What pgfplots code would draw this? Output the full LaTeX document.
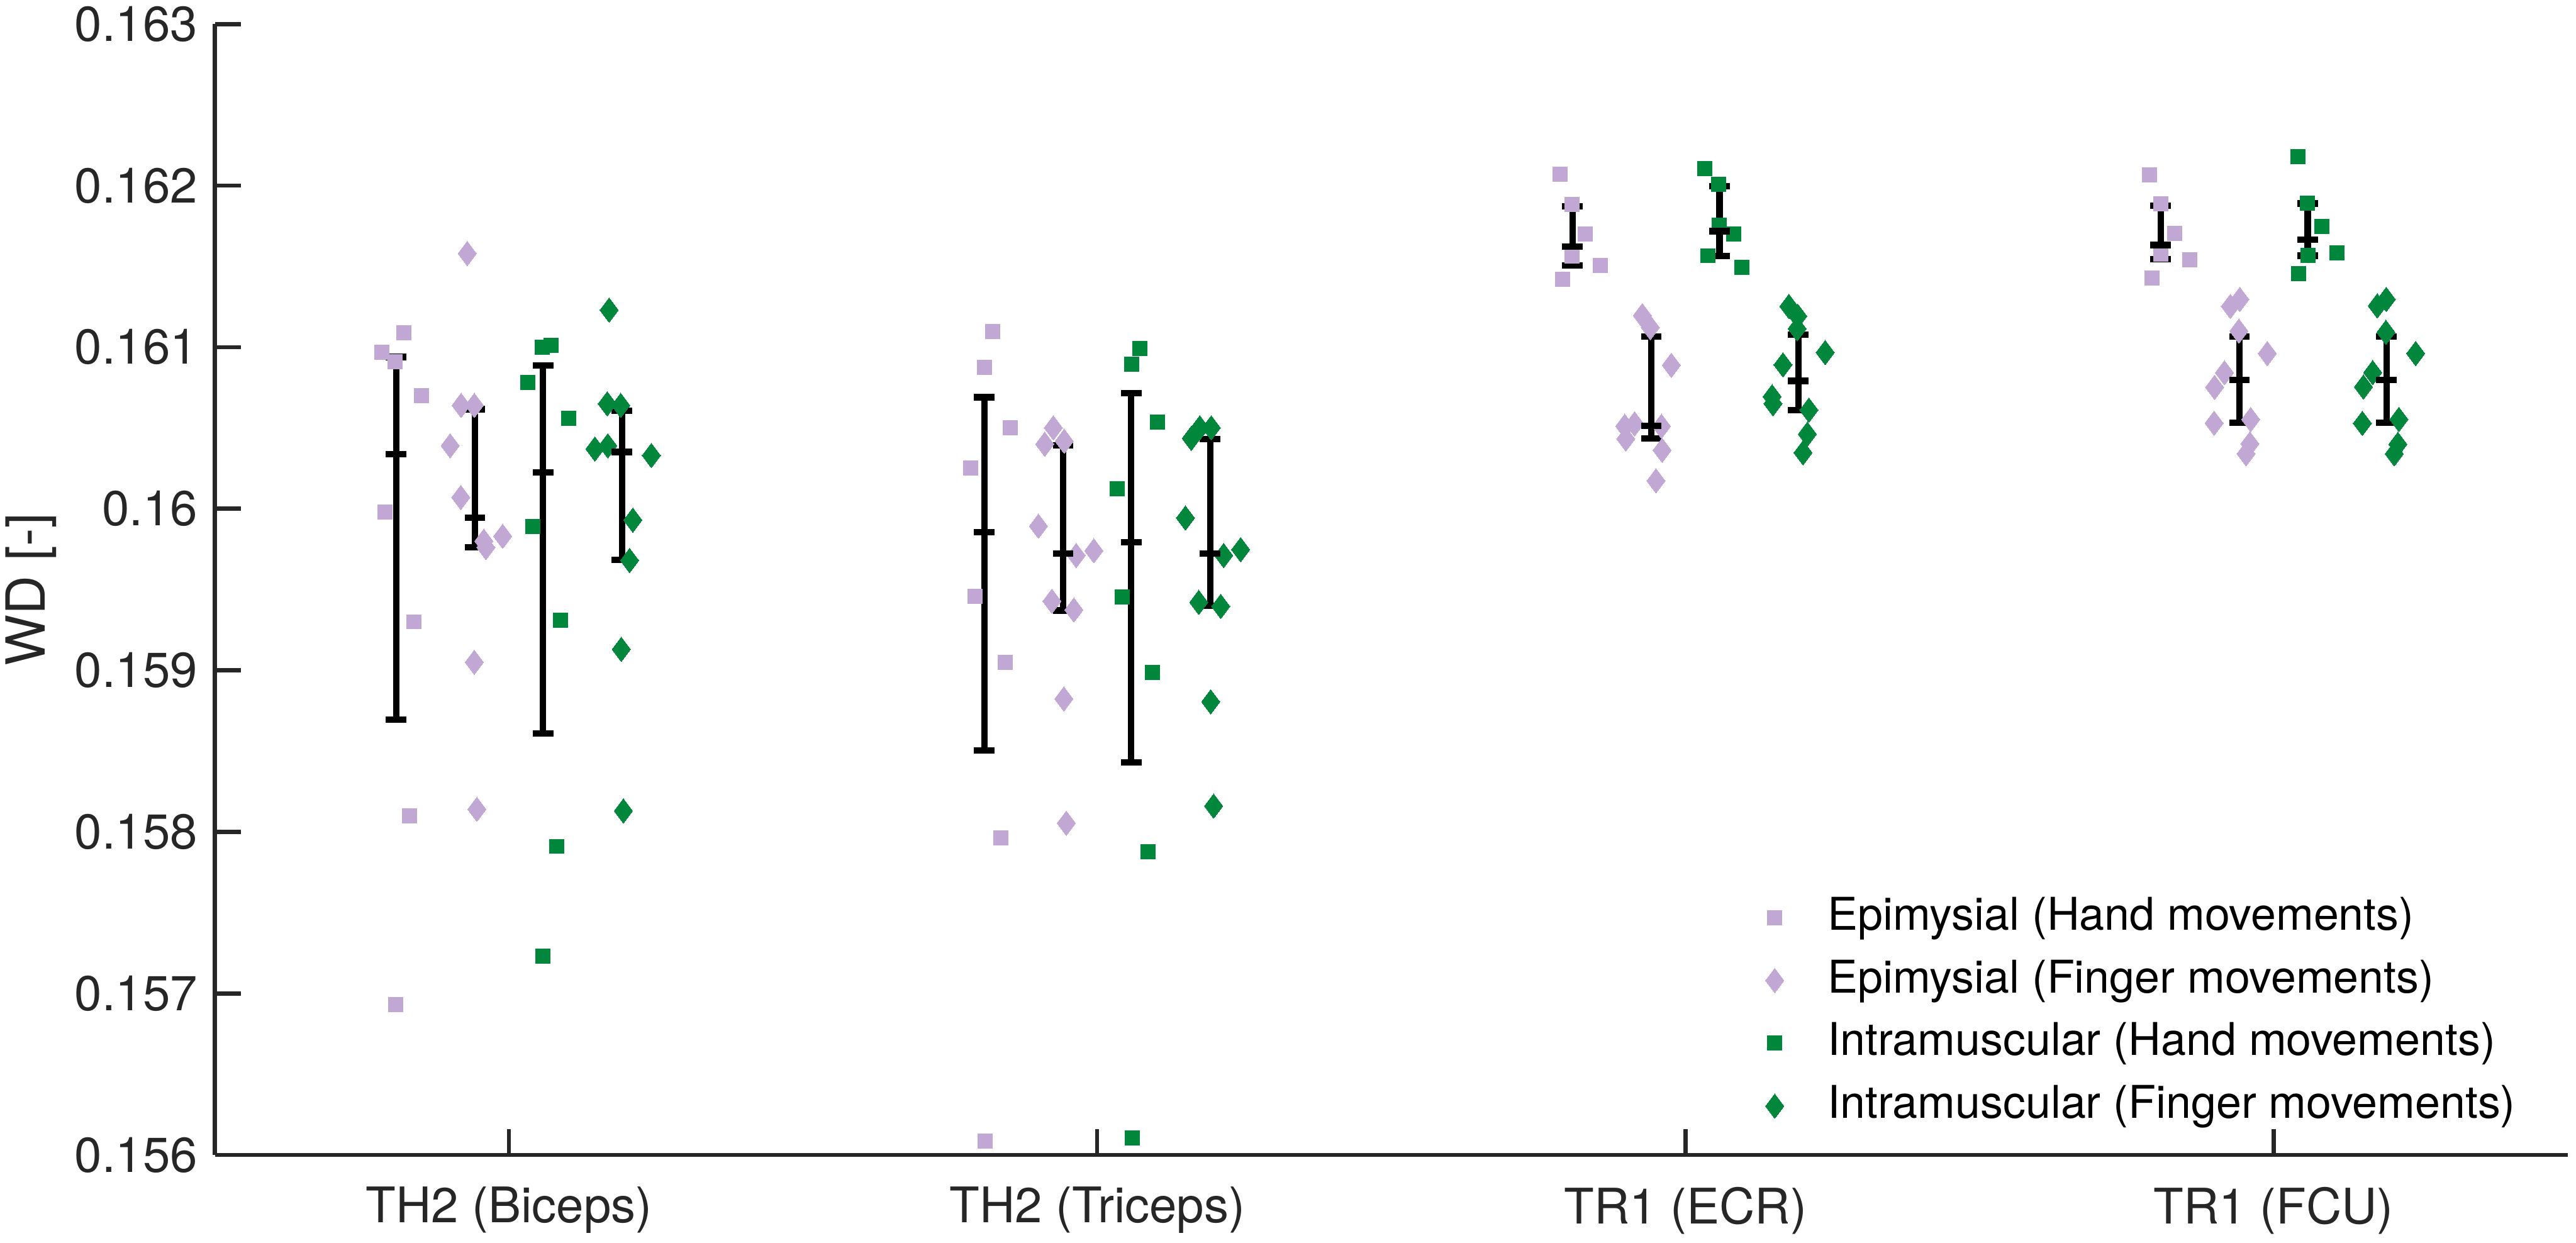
\documentclass[border=0pt]{standalone}
\usepackage{pgfplots}
\pgfplotsset{compat=1.18}
\usepackage{pgfplotstable}
\usepackage{fontspec}
\setmainfont{TeX Gyre Heros}
\definecolor{epi}{RGB}{193,168,212}
\definecolor{intra}{RGB}{0,135,60}
\definecolor{axgray}{RGB}{38,38,38}

% Epimysial, hand movements
\pgfplotstableread{
x y
0.7834 0.16097
0.8215 0.16109
0.8060 0.16091
0.8515 0.16070
0.7894 0.15998
0.8380 0.15930
0.8312 0.15810
0.8076 0.15693
1.8223 0.161096
1.8084 0.160875
1.8526 0.160501
1.7844 0.160251
1.7920 0.159457
1.8440 0.159048
1.8362 0.157964
1.8094 0.156086
2.7873 0.162072
2.8072 0.161882
2.8300 0.161700
2.8070 0.161564
2.8551 0.161505
2.7916 0.161420
3.7891 0.162068
3.8086 0.161889
3.8320 0.161703
3.8086 0.161576
3.8576 0.161542
3.7934 0.161427
}\epihand

% Epimysial, finger movements
\pgfplotstableread{
x y
0.9290 0.16158
0.9186 0.16064
0.9411 0.16064
0.9000 0.16039
0.9180 0.16007
0.9572 0.15980
0.9607 0.15976
0.9893 0.15983
0.9410 0.15905
0.9454 0.15814
1.9254 0.160501
1.9108 0.160400
1.9440 0.160418
1.9001 0.159892
1.9643 0.159711
1.9943 0.159740
1.9230 0.159428
1.9604 0.159374
1.9433 0.158823
1.9475 0.158054
2.9268 0.161196
2.9404 0.161122
2.9761 0.160888
2.8969 0.160511
2.9136 0.160526
2.9593 0.160511
2.8987 0.160432
2.9604 0.160362
2.9500 0.160173
3.9265 0.161253
3.9426 0.161296
3.9410 0.161100
3.9893 0.160961
3.9165 0.160842
3.8997 0.160752
3.8990 0.160530
3.9611 0.160553
3.9597 0.160402
3.9532 0.160340
}\epifinger

% Intramuscular, hand movements
\pgfplotstableread{
x y
1.0564 0.16100
1.0714 0.16101
1.0321 0.16078
1.1017 0.16056
1.0400 0.15989
1.0878 0.15931
1.0810 0.15791
1.0575 0.15723
2.0728 0.160991
2.0585 0.160896
2.1024 0.160537
2.0340 0.160124
2.0425 0.159454
2.0935 0.158986
2.0860 0.157877
2.0600 0.156104
3.0332 0.162105
3.0564 0.162008
3.0580 0.161755
3.0824 0.161700
3.0385 0.161566
3.0964 0.161494
4.0418 0.162180
4.0578 0.161892
4.0817 0.161748
4.0590 0.161569
4.1078 0.161582
4.0425 0.161454
}\intrahand

% Intramuscular, finger movements
\pgfplotstableread{
x y
1.1702 0.16123
1.1670 0.16065
1.1900 0.16064
1.1460 0.16037
1.1680 0.16039
1.2420 0.16033
1.2106 0.15993
1.2050 0.15968
1.1910 0.15913
1.1945 0.15813
2.1600 0.160436
2.1745 0.160501
2.1940 0.160501
2.1500 0.159943
2.2150 0.159711
2.2440 0.159747
2.1727 0.159421
2.2100 0.159396
2.1930 0.158805
2.1980 0.158160
3.1760 0.161253
3.1910 0.161192
3.1900 0.161114
3.2377 0.160967
3.1660 0.160891
3.1474 0.160694
3.1490 0.160650
3.2100 0.160611
3.2074 0.160462
3.2000 0.160347
4.1763 0.161256
4.1916 0.161296
4.1910 0.161092
4.2416 0.160961
4.1685 0.160843
4.1528 0.160754
4.1510 0.160529
4.2130 0.160553
4.2113 0.160399
4.2052 0.160340
}\intrafinger

% Central value with upper and lower extent of each group
\pgfplotstableread{
x y ep em
0.808 0.160339 0.000600 0.001644
0.942 0.159944 0.000672 0.000181
1.058 0.160225 0.000661 0.001617
1.192 0.160351 0.000255 0.000668
1.808 0.159856 0.000834 0.001352
1.942 0.159722 0.000671 0.000352
2.058 0.159791 0.000924 0.001360
2.192 0.159722 0.000710 0.000323
2.808 0.161623 0.000250 0.000118
2.942 0.160513 0.000554 0.000079
3.058 0.161718 0.000278 0.000154
3.192 0.160791 0.000286 0.000181
3.808 0.161632 0.000245 0.000088
3.942 0.160797 0.000270 0.000265
4.058 0.161666 0.000223 0.000100
4.192 0.160797 0.000270 0.000265
}\errtab

\begin{document}
\begin{tikzpicture}
\useasboundingbox (-43.8pt,-17.9pt) rectangle ++(525pt,253.3pt);
\begin{axis}[
  at={(0,0)}, anchor=south west,
  scale only axis, width=479.5pt, height=230.5pt,
  xmin=0.5, xmax=4.5, ymin=0.156, ymax=0.163,
  axis lines*=left,
  axis line style={color=axgray, line width=0.85pt},
  tick align=inside,
  major tick length=5.3pt,
  tick style={color=axgray, line width=0.85pt},
  xtick={1,2,3,4},
  xticklabels={TH2 (Biceps), TH2 (Triceps), TR1 (ECR), TR1 (FCU)},
  ytick={0.156,0.157,0.158,0.159,0.160,0.161,0.162,0.163},
  yticklabels={0.156,0.157,0.158,0.159,0.16,0.161,0.162,0.163},
  scaled y ticks=false,
  ticklabel style={text=axgray},
  xticklabel style={yshift=-3pt},
  ylabel={WD [-]},
  ylabel style={text=axgray, font=\fontsize{11}{13}\selectfont,
    at={(axis description cs:0,0.5)}, anchor=center, yshift=37.5pt},
  legend cell align=left,
  legend image code/.code={\path (-7.6pt,0pt) (8.6pt,0pt); \draw[#1] plot coordinates {(0pt,0pt)};},
  legend style={draw=none, fill=none, inner sep=0pt, text=black,
    font=\fontsize{9.2}{11}\selectfont,
    at={(rel axis cs:0.6463,0.2385)}, anchor=north west,
    nodes={inner xsep=2pt, inner ysep=1.4pt, text height=0.75em, text depth=0.25em}},
]
\addplot[only marks, mark=square*, mark size=1.47pt, mark options={draw=epi, fill=epi, line width=0pt}] table[x=x,y=y] {\epihand};
\addlegendentry{Epimysial (Hand movements)}
\addplot[only marks, mark=diamond*, mark size=2.5pt, mark options={draw=epi, fill=epi, line width=0pt}] table[x=x,y=y] {\epifinger};
\addlegendentry{Epimysial (Finger movements)}
\addplot[only marks, mark=square*, mark size=1.47pt, mark options={draw=intra, fill=intra, line width=0pt}] table[x=x,y=y] {\intrahand};
\addlegendentry{Intramuscular (Hand movements)}
\addplot[only marks, mark=diamond*, mark size=2.5pt, mark options={draw=intra, fill=intra, line width=0pt}] table[x=x,y=y] {\intrafinger};
\addlegendentry{Intramuscular (Finger movements)}
\addplot[black, only marks, mark=-, mark size=2.1pt, mark options={line width=1.3pt, black}, forget plot,
  error bars/.cd, y dir=both, y explicit,
  error bar style={line width=1.3pt, black},
  error mark options={rotate=90, mark size=2.1pt, line width=1.3pt, black}]
  table[x=x, y=y, y error plus=ep, y error minus=em] {\errtab};
\end{axis}
\end{tikzpicture}
\end{document}
